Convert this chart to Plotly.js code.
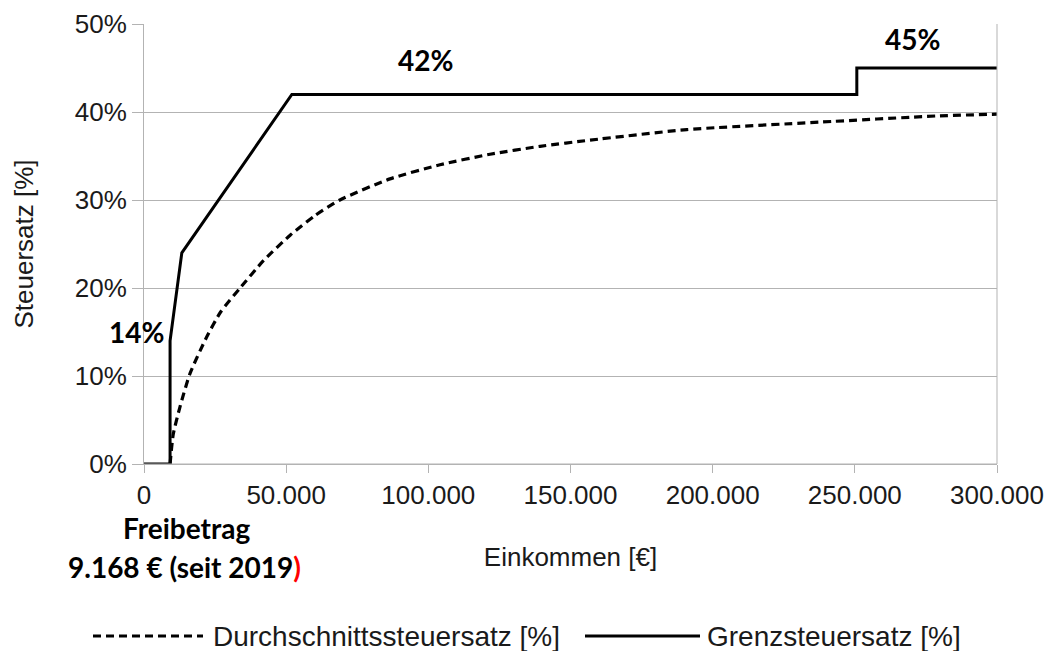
<!DOCTYPE html>
<html>
<head>
<meta charset="utf-8">
<script src="https://cdn.plot.ly/plotly-3.0.1.min.js"></script>
<style>html,body{margin:0;padding:0;background:#fff;}#chart{width:1051px;height:651px;}</style>
</head>
<body>
<div id="chart"></div>
<script>
// Grenzsteuersatz (marginal rate)
const incomeMarginal = [0, 9168, 9168, 13300, 52000, 250700, 250700, 300000];
const rateMarginal   = [0, 0, 14, 24, 42, 42, 45, 45];

// Durchschnittssteuersatz (average rate)
const incomeAverage = [9168, 10300, 12660, 16200, 22000, 27000, 33800, 42000, 51400, 60000, 68900, 86500, 104100, 121700, 139300, 156900, 190900, 237800, 278800, 300000];
const rateAverage   = [0, 3.4, 6.5, 10.3, 14.4, 17.3, 20.0, 23.1, 26.0, 28.2, 30.0, 32.4, 34.0, 35.2, 36.1, 36.8, 38.0, 38.85, 39.55, 39.75];

const seriesNames = ["Durchschnittssteuersatz [%]", "Grenzsteuersatz [%]"];
const xTicks = [0, 50000, 100000, 150000, 200000, 250000, 300000];
const yTicks = [0, 10, 20, 30, 40, 50];
const yTickText = yTicks.map(v => v + "%");

const traces = [
  {x: incomeAverage, y: rateAverage, mode: "lines", name: seriesNames[0],
   line: {color: "#000", width: 3.2, dash: "8px,5px", shape: "spline", smoothing: 0.6}, showlegend: false},
  {x: incomeMarginal, y: rateMarginal, mode: "lines", name: seriesNames[1],
   line: {color: "#000", width: 3}, showlegend: false}
];

const FS = 26;
const boldFont = {family: "Lato, 'Open Sans', sans-serif", size: 28, color: "#000", weight: 700};
const txtColor = "#1a1a1a";
const legFont = {family: "'Liberation Sans', Arial, sans-serif", size: 28, color: txtColor};

// helpers converting pixel guides to paper coordinates (plot area 144..997 x 24..464)
const px = v => (v - 144) / 853;
const py = v => (464 - v) / 440;

const layout = {
  width: 1051, height: 651,
  margin: {l: 144, r: 54, t: 24, b: 187},
  paper_bgcolor: "#fff", plot_bgcolor: "#fff",
  separators: ",.",
  showlegend: false,
  font: {family: "'Liberation Sans', Arial, sans-serif", size: FS, color: txtColor},
  xaxis: {
    range: [0, 300000], tickvals: xTicks, tickformat: ",d",
    showgrid: false, zeroline: false,
    showline: true, linecolor: "#b3b3b3", linewidth: 1,
    ticks: "outside", ticklen: 8, tickcolor: "#b3b3b3",
    tickfont: {size: FS, color: txtColor},
    title: {text: "Einkommen [€]", font: {size: FS, color: txtColor}, standoff: 38},
    automargin: false, fixedrange: true
  },
  yaxis: {
    range: [0, 50], tickvals: yTicks, ticktext: yTickText,
    showgrid: true, gridcolor: "#b3b3b3", gridwidth: 1, zeroline: false,
    showline: true, linecolor: "#b3b3b3", linewidth: 1,
    ticks: "outside", ticklen: 11, tickcolor: "#b3b3b3",
    tickfont: {size: FS, color: txtColor},
    title: {text: "Steuersatz [%]", font: {size: FS, color: txtColor}, standoff: 33},
    automargin: false, fixedrange: true
  },
  shapes: [
    {type: "line", xref: "paper", yref: "paper", x0: 1, x1: 1, y0: 0, y1: 1, line: {color: "#b3b3b3", width: 1}},
    {type: "line", xref: "paper", yref: "paper", x0: 0, x1: 1, y0: 0, y1: 0, line: {color: "#b3b3b3", width: 1}},
    // legend samples
    {type: "line", xref: "paper", yref: "paper", x0: px(93), x1: px(203), y0: py(636), y1: py(636), line: {color: "#000", width: 3, dash: "8px,5px"}},
    {type: "line", xref: "paper", yref: "paper", x0: px(585), x1: px(700), y0: py(636), y1: py(636), line: {color: "#000", width: 3}}
  ],
  annotations: [
    {x: 9168, y: 15, xref: "x", yref: "y", text: "14%", showarrow: false, xanchor: "right", yanchor: "middle", xshift: -4, font: boldFont},
    {x: 99100, y: 45.9, xref: "x", yref: "y", text: "42%", showarrow: false, xanchor: "center", yanchor: "middle", font: boldFont},
    {x: 270200, y: 48.3, xref: "x", yref: "y", text: "45%", showarrow: false, xanchor: "center", yanchor: "middle", font: boldFont},
    {x: px(186), y: py(528), xref: "paper", yref: "paper", text: "Freibetrag", showarrow: false, xanchor: "center", yanchor: "middle", font: boldFont},
    {x: px(184), y: py(567), xref: "paper", yref: "paper", text: "9.168 € (seit 2019<span style=\"color:#ff0000\">)</span>", showarrow: false, xanchor: "center", yanchor: "middle", font: boldFont},
    {x: px(211), y: py(636), xref: "paper", yref: "paper", text: seriesNames[0], showarrow: false, xanchor: "left", yanchor: "middle", font: legFont},
    {x: px(705), y: py(636), xref: "paper", yref: "paper", text: seriesNames[1], showarrow: false, xanchor: "left", yanchor: "middle", font: legFont}
  ]
};

Plotly.newPlot("chart", traces, layout, {displayModeBar: false, staticPlot: true});
</script>
</body>
</html>
